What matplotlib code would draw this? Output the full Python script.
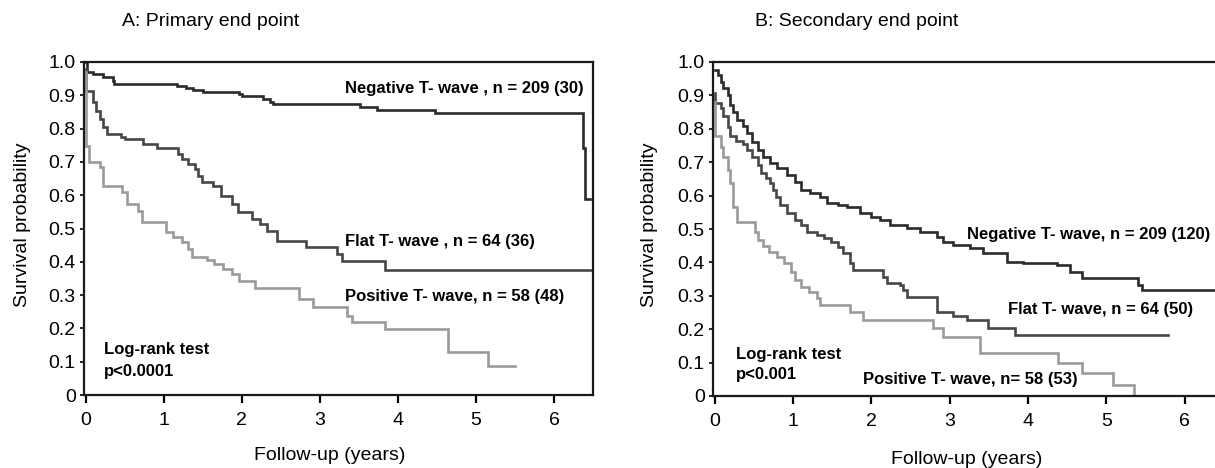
import matplotlib
matplotlib.use('Agg')
import matplotlib.pyplot as plt
import numpy as np

plt.rcParams['font.family'] = ['Liberation Sans', 'DejaVu Sans']

# ---- Panel A: primary end point (step times in years, survival after step) ----
a_neg_t = [0, 0.02, 0.09, 0.22, 0.35, 0.37, 1.17, 1.29, 1.37, 1.5, 1.97, 2.01,
           2.27, 2.36, 2.4, 3.51, 3.73, 4.47, 6.37, 6.40]
a_neg_s = [1.0, 0.97, 0.965, 0.955, 0.943, 0.935, 0.928, 0.922, 0.916, 0.91, 0.904, 0.898,
           0.889, 0.88, 0.874, 0.866, 0.856, 0.847, 0.742, 0.589]
a_neg_end = 6.46

a_flat_t = [0, 0.01, 0.09, 0.14, 0.18, 0.22, 0.28, 0.46, 0.5, 0.73, 0.92, 1.18, 1.23,
            1.31, 1.4, 1.44, 1.49, 1.63, 1.74, 1.88, 1.95, 2.13, 2.23, 2.32, 2.45,
            2.83, 3.22, 3.28, 3.83]
a_flat_s = [0.98, 0.913, 0.88, 0.853, 0.829, 0.805, 0.784, 0.775, 0.769, 0.754, 0.742, 0.724, 0.709,
            0.694, 0.679, 0.658, 0.64, 0.628, 0.598, 0.574, 0.55, 0.529, 0.514, 0.493, 0.462,
            0.444, 0.423, 0.403, 0.376]
a_flat_end = 6.5

a_pos_t = [0, 0.005, 0.01, 0.05, 0.18, 0.22, 0.47, 0.53, 0.67, 0.72, 1.03, 1.12, 1.23,
           1.31, 1.36, 1.55, 1.65, 1.76, 1.88, 1.97, 2.17, 2.74, 2.91, 3.35, 3.41,
           3.83, 4.64, 5.15]
a_pos_s = [0.97, 0.80, 0.748, 0.70, 0.685, 0.628, 0.61, 0.574, 0.553, 0.52, 0.49, 0.474, 0.459,
           0.438, 0.414, 0.405, 0.393, 0.378, 0.363, 0.342, 0.321, 0.288, 0.264, 0.237, 0.219,
           0.198, 0.129, 0.087]
a_pos_end = 5.5

# ---- Panel B: secondary end point ----
b_neg_t = [0, 0.04, 0.08, 0.11, 0.17, 0.2, 0.24, 0.29, 0.36, 0.42, 0.48, 0.55, 0.62,
           0.71, 0.8, 0.93, 1.03, 1.1, 1.22, 1.35, 1.44, 1.57, 1.69, 1.86, 1.99, 2.11,
           2.24, 2.46, 2.62, 2.84, 2.92, 3.04, 3.26, 3.43, 3.73, 3.94, 4.37, 4.54, 4.69,
           5.4, 5.45]
b_neg_s = [0.977, 0.962, 0.94, 0.923, 0.9, 0.87, 0.85, 0.827, 0.807, 0.788, 0.76, 0.737, 0.717,
           0.698, 0.683, 0.662, 0.642, 0.618, 0.608, 0.597, 0.579, 0.573, 0.567, 0.549, 0.537, 0.528,
           0.513, 0.504, 0.492, 0.477, 0.462, 0.453, 0.444, 0.429, 0.402, 0.399, 0.393, 0.372, 0.354,
           0.333, 0.318]
b_neg_end = 6.5

b_flat_t = [0, 0.01, 0.08, 0.11, 0.17, 0.2, 0.27, 0.36, 0.42, 0.48, 0.55, 0.59, 0.65,
            0.71, 0.74, 0.78, 0.84, 0.93, 1.03, 1.1, 1.18, 1.31, 1.39, 1.48, 1.57, 1.64,
            1.73, 1.76, 2.15, 2.2, 2.37, 2.41, 2.46, 2.84, 3.04, 3.22, 3.49, 3.83]
b_flat_s = [0.908, 0.878, 0.863, 0.837, 0.804, 0.777, 0.762, 0.753, 0.738, 0.717, 0.693, 0.669, 0.654,
            0.639, 0.618, 0.597, 0.573, 0.549, 0.528, 0.513, 0.492, 0.483, 0.474, 0.462, 0.447, 0.429,
            0.399, 0.378, 0.357, 0.339, 0.333, 0.318, 0.297, 0.252, 0.24, 0.228, 0.204, 0.183]
b_flat_end = 5.78

b_pos_t = [0, 0.01, 0.08, 0.11, 0.17, 0.2, 0.24, 0.29, 0.52, 0.56, 0.62, 0.69, 0.8,
           0.88, 0.97, 1.03, 1.1, 1.2, 1.31, 1.35, 1.73, 1.9, 2.79, 2.92, 3.39, 4.38,
           4.69, 5.08, 5.35]
b_pos_s = [0.88, 0.777, 0.747, 0.717, 0.678, 0.639, 0.567, 0.522, 0.492, 0.468, 0.45, 0.43, 0.417,
           0.399, 0.372, 0.348, 0.327, 0.312, 0.294, 0.273, 0.252, 0.228, 0.204, 0.177, 0.129, 0.099,
           0.069, 0.033, 0.0]
b_pos_end = 5.35

x_ticks = [0, 1, 2, 3, 4, 5, 6]
y_ticks = [0, 0.1, 0.2, 0.3, 0.4, 0.5, 0.6, 0.7, 0.8, 0.9, 1.0]
y_tick_labels = ['0', '0.1', '0.2', '0.3', '0.4', '0.5', '0.6', '0.7', '0.8', '0.9', '1.0']

c_neg = '#2b2b2b'
c_flat = '#474747'
c_pos = '#9a9a9a'


def step_curve(ax, t, s, end, color):
    tt = list(t) + [end]
    ss = list(s) + [s[-1]]
    ax.plot(tt, ss, drawstyle='steps-post', color=color, lw=1.9, solid_joinstyle='miter')


def style_axes(ax):
    ax.set_xlim(-0.02, 6.5)
    ax.set_ylim(0, 1.0)
    ax.set_xticks(x_ticks)
    ax.set_yticks(y_ticks)
    ax.set_yticklabels(y_tick_labels)
    ax.tick_params(axis='x', length=6, width=1.6, direction='out', labelsize=14, pad=6)
    ax.tick_params(axis='y', length=3, width=1.2, direction='out', labelsize=14, pad=3)
    for sp in ax.spines.values():
        sp.set_linewidth(1.6)
        sp.set_color('#1a1a1a')


fig = plt.figure(figsize=(12.15, 4.68), dpi=100)
lbl = dict(fontsize=12, fontweight='bold', va='center', ha='left')

# Panel A
axA = fig.add_axes([84 / 1215, 1 - 395 / 468, (593 - 84) / 1215, (395 - 62) / 468])
step_curve(axA, a_neg_t, a_neg_s, a_neg_end, c_neg)
step_curve(axA, a_flat_t, a_flat_s, a_flat_end, c_flat)
step_curve(axA, a_pos_t, a_pos_s, a_pos_end, c_pos)
style_axes(axA)
axA.text(3.32, 0.92, 'Negative T- wave , n = 209 (30)', **lbl)
axA.text(3.32, 0.46, 'Flat T- wave , n = 64 (36)', **lbl)
axA.text(3.32, 0.295, 'Positive T- wave, n = 58 (48)', **lbl)
axA.text(0.24, 0.138, 'Log-rank test', **lbl)
axA.text(0.24, 0.072, 'p<0.0001', **lbl)
fig.text(23 / 1215, 1 - 225 / 468, 'Survival probability', fontsize=14,
         rotation=90, ha='center', va='center')
fig.text(330 / 1215, 1 - 455 / 468, 'Follow-up (years)', fontsize=14, ha='center', va='center')
fig.text(122 / 1215, 1 - 22 / 468, 'A: Primary end point', fontsize=14, ha='left', va='center')

# Panel B (right edge is cut off by the figure border)
axB = fig.add_axes([713 / 1215, 1 - 396 / 468, (1224 - 713) / 1215, (396 - 62) / 468])
step_curve(axB, b_neg_t, b_neg_s, b_neg_end, c_neg)
step_curve(axB, b_flat_t, b_flat_s, b_flat_end, c_flat)
step_curve(axB, b_pos_t, b_pos_s, b_pos_end, c_pos)
style_axes(axB)
axB.spines['right'].set_visible(False)
axB.text(3.22, 0.483, 'Negative T- wave, n = 209 (120)', **lbl)
axB.text(3.75, 0.258, 'Flat T- wave, n = 64 (50)', **lbl)
axB.text(1.89, 0.048, 'Positive T- wave, n= 58 (53)', **lbl)
axB.text(0.27, 0.123, 'Log-rank test', **lbl)
axB.text(0.27, 0.063, 'p<0.001', **lbl)
fig.text(649 / 1215, 1 - 225 / 468, 'Survival probability', fontsize=14,
         rotation=90, ha='center', va='center')
fig.text(967 / 1215, 1 - 459 / 468, 'Follow-up (years)', fontsize=14, ha='center', va='center')
fig.text(755 / 1215, 1 - 22 / 468, 'B: Secondary end point', fontsize=14, ha='left', va='center')

fig.savefig('out.png', dpi=100)
